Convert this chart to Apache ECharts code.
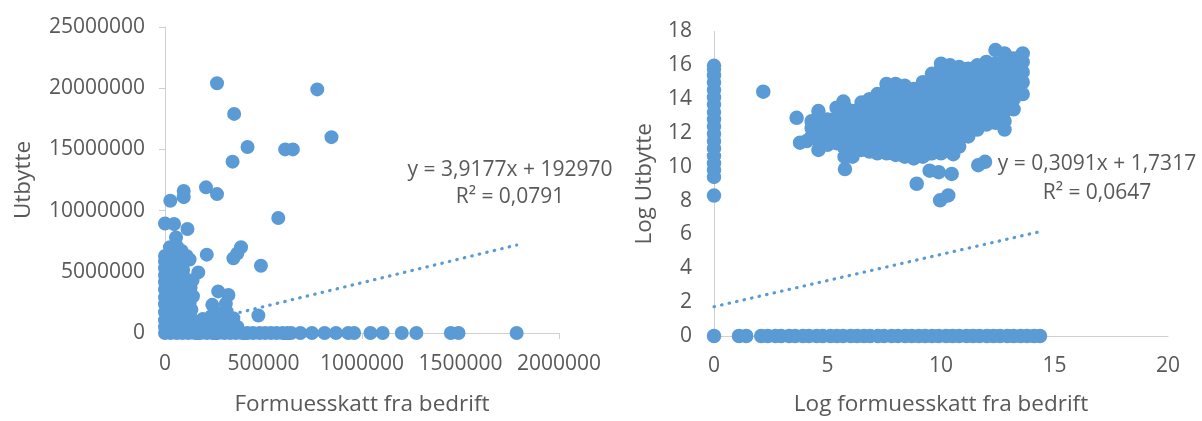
<!DOCTYPE html>
<html>
<head>
<meta charset="utf-8">
<script src="https://cdn.jsdelivr.net/npm/echarts@6/dist/echarts.min.js"></script>
<style>
html,body{margin:0;padding:0;background:#fff;}
#chart{width:1202px;height:421px;}
</style>
</head>
<body>
<div id="chart"></div>
<script>
// ---------- Left chart: Utbytte vs Formuesskatt fra bedrift ----------
const leftXTicks = [0, 500000, 1000000, 1500000, 2000000];
const leftYTicks = [0, 5000000, 10000000, 15000000, 20000000, 25000000];
const leftZeroX = [0, 28000, 61000, 89000, 118000, 152000, 179000, 213000, 241000, 268000, 302000, 331000,
  359000, 392000, 418000, 447000, 481000, 509000, 538000, 566000, 597000, 621000, 640000, 687000, 746000,
  810000, 868000, 930000, 960000, 1043000, 1105000, 1202000, 1276000, 1451000, 1490000, 1785000];
const leftCluster = [
  [0,480000],[0,1050000],[0,1700000],[0,2350000],[0,2900000],[0,3550000],[0,4150000],[0,4700000],[0,5300000],[0,5850000],[0,6300000],
  [16000,750000],[15000,1400000],[17000,2000000],[14000,2650000],[16000,3250000],[18000,3850000],[15000,4450000],[17000,5000000],[14000,5600000],[16000,6100000],
  [32000,420000],[32000,1000000],[35000,1620000],[30000,2200000],[36000,2800000],[33000,3400000],[31000,4050000],[34000,4600000],[30000,5200000],[35000,5800000],[38000,6400000],
  [52000,750000],[50000,1350000],[53000,2000000],[49000,2600000],[51000,3200000],[54000,3800000],[50000,4400000],[52000,5000000],[48000,5550000],[51000,6050000],
  [68000,520000],[71000,1120000],[66000,1750000],[72000,2300000],[69000,2950000],[70000,3500000],[67000,4120000],[73000,4700000],[68000,5250000],[71000,5900000],[64000,6200000],
  [86000,800000],[84000,1400000],[87000,2000000],[83000,2600000],[85000,3150000],[86000,3750000],[82000,4350000],[84000,4900000],[80000,5500000],
  [101000,380000],[98000,1000000],[104000,1600000],[99000,2250000],[102000,2800000],[97000,3400000],[100000,4000000],[96000,4550000],[92000,5150000],[88000,5650000],
  [116000,700000],[118000,1350000],[115000,2050000],[117000,2700000],[114000,3300000],[112000,3900000],
  [128000,600000],[131000,1250000],[134000,1900000],[126000,2500000],[142000,3000000],[130000,3700000],[140000,4300000],
  [160000,700000],[175000,300000],[188000,450000],[192000,1150000],[205000,700000],[216000,850000],[230000,350000],
  [244000,550000],[236000,1400000],[258000,900000],[276000,800000],[290000,400000],[262000,1650000],[305000,480000],
  [298000,1050000],[313000,1760000],[322000,700000],[336000,900000],[347000,1200000],[355000,450000],[368000,500000],
  [25000,7000000],[60000,7100000],[85000,6700000],[125000,6000000],[110000,6300000]
];
const leftOutliers = [
  [264000,20400000],[773000,19900000],[351000,17900000],[845000,16000000],[419000,15200000],[610000,15000000],
  [649000,15000000],[343000,14000000],[208000,11900000],[264000,11350000],[95000,11600000],[95000,11100000],
  [27000,10800000],[575000,9400000],[0,8950000],[46000,8900000],[114000,8500000],[56000,7800000],[386000,7000000],
  [367000,6500000],[347000,6100000],[212000,6400000],[487000,5500000],[169000,4950000],[270000,3400000],
  [322000,3100000],[240000,2300000],[309000,2400000],[474000,1430000],[328000,1000000]
];
const leftTrend = {slope: 3.9177, intercept: 192970, xMin: 0, xMax: 1785000};
const leftEquation = ['y = 3,9177x + 192970', 'R\u00B2 = 0,0791'];

// ---------- Right chart: Log Utbytte vs Log formuesskatt fra bedrift ----------
const rightXTicks = [0, 5, 10, 15, 20];
const rightYTicks = [0, 2, 4, 6, 8, 10, 12, 14, 16, 18];
const rightZeroX = [0, 1.1, 1.42, 2.08, 2.37, 2.71, 2.96, 3.31, 3.58, 3.92, 4.18, 4.52, 4.79, 5.13, 5.41, 5.69,
  6.02, 6.3, 6.61, 6.88, 7.22, 7.49, 7.83, 8.1, 8.42, 8.71, 9.02, 9.3, 9.61, 9.9, 10.22, 10.51, 10.8, 11.12,
  11.41, 11.7, 12.02, 12.31, 12.6, 12.92, 13.2, 13.51, 13.8, 14.1, 14.36];
const rightZeroY = [8.3, 9.4, 9.82, 10.21, 10.66, 11.08, 11.52, 11.95, 12.38, 12.81, 13.24, 13.68, 14.1, 14.55,
  14.98, 15.4, 15.78, 15.97];
const rightCluster = [
  [4.3,11.8],[4.3,12.3],[4.3,12.7],
  [4.6,11.0],[4.6,11.5],[4.6,12.0],[4.6,12.5],[4.6,13.0],[4.6,13.3],
  [5.0,11.3],[5.0,11.8],[5.0,12.3],[5.0,12.8],
  [5.4,11.4],[5.4,11.9],[5.4,12.4],[5.4,12.9],[5.4,13.5],
  [5.75,10.6],[5.75,11.1],[5.75,11.6],[5.75,12.1],[5.75,12.6],[5.75,13.1],[5.75,13.6],
  [6.1,10.6],[6.1,11.1],[6.1,11.6],[6.1,12.1],[6.1,12.6],[6.1,13.3],
  [6.5,11.0],[6.5,11.5],[6.5,12.0],[6.5,12.5],[6.5,13.0],[6.5,13.5],[6.5,13.8],
  [6.85,10.9],[6.85,11.4],[6.85,11.9],[6.85,12.4],[6.85,12.9],[6.85,13.4],[6.85,14.0],
  [7.2,10.8],[7.2,11.3],[7.2,11.8],[7.2,12.3],[7.2,12.8],[7.2,13.3],[7.2,13.8],[7.2,14.3],
  [7.6,10.8],[7.6,11.3],[7.6,11.8],[7.6,12.3],[7.6,12.8],[7.6,13.3],[7.6,13.8],[7.6,14.3],[7.6,14.9],
  [8.0,10.7],[8.0,11.2],[8.0,11.7],[8.0,12.2],[8.0,12.7],[8.0,13.2],[8.0,13.7],[8.0,14.2],[8.0,14.9],
  [8.4,10.6],[8.4,11.1],[8.4,11.6],[8.4,12.1],[8.4,12.6],[8.4,13.1],[8.4,13.6],[8.4,14.1],[8.4,14.8],
  [8.8,10.5],[8.8,11.0],[8.8,11.5],[8.8,12.0],[8.8,12.5],[8.8,13.0],[8.8,13.5],[8.8,14.0],[8.8,14.6],
  [9.2,10.6],[9.2,11.1],[9.2,11.6],[9.2,12.1],[9.2,12.6],[9.2,13.1],[9.2,13.6],[9.2,14.1],[9.2,14.6],[9.2,15.0],
  [9.6,10.8],[9.6,11.3],[9.6,11.8],[9.6,12.3],[9.6,12.8],[9.6,13.3],[9.6,13.8],[9.6,14.3],[9.6,14.8],[9.6,15.5],
  [10.0,10.8],[10.0,11.3],[10.0,11.8],[10.0,12.3],[10.0,12.8],[10.0,13.3],[10.0,13.8],[10.0,14.3],[10.0,14.8],[10.0,15.3],[10.0,15.8],[10.0,16.1],
  [10.4,10.9],[10.4,11.4],[10.4,11.9],[10.4,12.4],[10.4,12.9],[10.4,13.4],[10.4,13.9],[10.4,14.4],[10.4,14.9],[10.4,15.4],[10.4,16.0],
  [10.8,11.2],[10.8,11.7],[10.8,12.2],[10.8,12.7],[10.8,13.2],[10.8,13.7],[10.8,14.2],[10.8,14.7],[10.8,15.2],[10.8,15.9],
  [11.2,11.8],[11.2,12.3],[11.2,12.8],[11.2,13.3],[11.2,13.8],[11.2,14.3],[11.2,14.8],[11.2,15.3],[11.2,15.8],
  [11.6,12.2],[11.6,12.7],[11.6,13.2],[11.6,13.7],[11.6,14.2],[11.6,14.7],[11.6,15.2],[11.6,15.7],[11.6,16.0],
  [12.0,12.5],[12.0,13.0],[12.0,13.5],[12.0,14.0],[12.0,14.5],[12.0,15.0],[12.0,15.5],[12.0,16.2],
  [12.4,12.6],[12.4,13.1],[12.4,13.6],[12.4,14.1],[12.4,14.6],[12.4,15.1],[12.4,15.6],[12.4,16.1],[12.4,16.9],
  [12.8,12.2],[12.8,12.7],[12.8,13.3],[12.8,13.9],[12.8,14.5],[12.8,15.1],[12.8,15.6],[12.8,16.1],[12.8,16.7],
  [13.2,13.4],[13.2,14.0],[13.2,14.6],[13.2,15.2],[13.2,15.8],[13.2,16.4],
  [13.6,14.3],[13.6,15.0],[13.6,15.6],[13.6,16.2],[13.6,16.7]
];
const rightOutliers = [
  [2.17,14.44],[3.64,12.9],[3.79,11.43],[4.08,11.52],[5.77,9.87],[5.7,13.86],[8.93,9.0],[9.5,9.77],[9.9,9.68],
  [10.47,9.58],[9.96,8.02],[10.32,8.31],[11.64,10.1],[11.94,10.3],[10.54,10.75],[13.1,14.24]
];
const rightTrend = {slope: 0.3091, intercept: 1.7317, xMin: 0, xMax: 14.36};
const rightEquation = ['y = 0,3091x + 1,7317', 'R\u00B2 = 0,0647'];

// ---------- build ----------
const BLUE = '#5b9bd5';
const TEXT = '#595959';
const AXIS = '#d0d0d0';
const FONT = 'Open Sans';

function trendPts(t) {
  return [[t.xMin, t.intercept + t.slope * t.xMin], [t.xMax, t.intercept + t.slope * t.xMax]];
}
function ticksOf(arr) { return {min: arr[0], max: arr[arr.length - 1], interval: arr[1] - arr[0]}; }

const lx = ticksOf(leftXTicks), ly = ticksOf(leftYTicks), rx = ticksOf(rightXTicks), ry = ticksOf(rightYTicks);

function axis(idx, t, name, gap, showTick, margin) {
  return {
    gridIndex: idx, type: 'value', min: t.min, max: t.max, interval: t.interval,
    name: name, nameLocation: 'middle', nameGap: gap,
    nameTextStyle: {color: TEXT, fontSize: 22.5, fontFamily: FONT},
    axisLine: {show: true, lineStyle: {color: AXIS, width: 1}},
    axisTick: {show: showTick, length: 6, lineStyle: {color: AXIS}},
    splitLine: {show: false},
    axisLabel: {color: TEXT, fontSize: 21, fontFamily: FONT, margin: margin, formatter: v => String(v)}
  };
}

// All points of one chart in one large-mode series so overlapping dots merge into one solid shape
function scatter(xi, size, data) {
  return {
    type: 'scatter', symbol: 'circle', clip: false, large: true, largeThreshold: 1,
    xAxisIndex: xi, yAxisIndex: xi, symbolSize: size, data: data,
    itemStyle: {color: BLUE, opacity: 1},
    emphasis: {disabled: true}
  };
}
const trendStyle = {color: BLUE, width: 3.2, type: [0.5, 7.2], cap: 'round'};

const textStyle = {fill: TEXT, font: '21px "Open Sans"', textAlign: 'center', textVerticalAlign: 'middle', x: 0, y: 0};

const leftAll = leftZeroX.map(x => [x, 0]).concat(leftCluster, leftOutliers);
const rightAll = rightZeroX.map(x => [x, 0]).concat(rightZeroY.map(y => [0, y]), rightCluster, rightOutliers);

const option = {
  animation: false,
  backgroundColor: '#fff',
  textStyle: {fontFamily: FONT},
  grid: [
    {left: 165, top: 27, width: 394, height: 308},
    {left: 714, top: 31.5, width: 454, height: 308}
  ],
  xAxis: [
    axis(0, lx, 'Formuesskatt fra bedrift', 60, true, 21),
    axis(1, rx, 'Log formuesskatt fra bedrift', 57, false, 20)
  ],
  yAxis: [
    axis(0, ly, 'Utbytte', 130, true, 20),
    axis(1, ry, 'Log Utbytte', 58, false, 22)
  ],
  series: [
    scatter(0, 14, leftAll),
    {type: 'line', xAxisIndex: 0, yAxisIndex: 0, data: trendPts(leftTrend), showSymbol: false, symbol: 'none', lineStyle: trendStyle, z: 3},
    scatter(1, 14.5, rightAll),
    {type: 'line', xAxisIndex: 1, yAxisIndex: 1, data: trendPts(rightTrend), showSymbol: false, symbol: 'none', lineStyle: trendStyle, z: 3}
  ],
  graphic: [
    {type: 'text', style: Object.assign({text: leftEquation[0]}, textStyle), x: 510, y: 170},
    {type: 'text', style: Object.assign({text: leftEquation[1]}, textStyle), x: 510, y: 197},
    {type: 'text', style: Object.assign({text: rightEquation[0]}, textStyle), x: 1097, y: 164},
    {type: 'text', style: Object.assign({text: rightEquation[1]}, textStyle), x: 1097, y: 193}
  ]
};

const chart = echarts.init(document.getElementById('chart'), null, {renderer: 'canvas'});
chart.setOption(option);
</script>
</body>
</html>
